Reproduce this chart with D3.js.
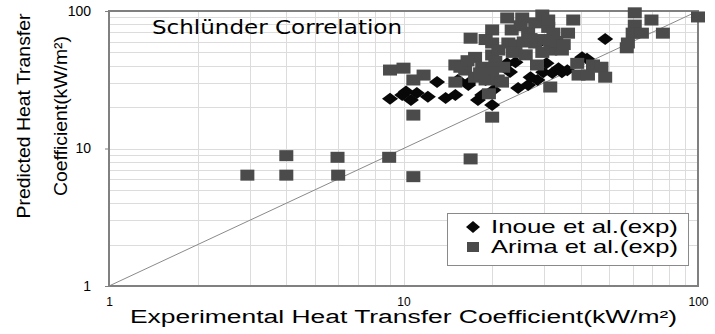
<!DOCTYPE html>
<html>
<head>
<meta charset="utf-8">
<script src="https://cdn.jsdelivr.net/npm/d3@7"></script>
<style>
  body { margin: 0; background: #fff; }
  svg { display: block; }
</style>
</head>
<body>
<svg id="chart" width="715" height="334"></svg>
<script>
const title = "Schlünder Correlation";
const xTitle = "Experimental Heat Transfer Coefficient(kW/m²)";
const yTitleLines = ["Predicted Heat Transfer", "Coefficient(kW/m²)"];
const tickValues = [1, 10, 100];
const seriesNames = ["Inoue et al.(exp)", "Arima et al.(exp)"];

// Inoue et al. (diamonds)
const inoueX = [9.0, 9.9, 10.6, 11.1, 12.1, 13.0, 13.9, 15.0, 16.6, 17.9, 18.5, 20.0, 20.2, 19.0,
  22.5, 24.0, 24.5, 26.5, 28.5, 29.8, 30.6, 32.0, 33.6, 34.5, 29.1, 40.4, 42.0, 48.4,
  10.2, 15.3, 16.6, 23.0, 27.0, 36.0];
const inoueY = [23.0, 24.5, 22.5, 25.3, 23.8, 30.4, 23.3, 24.5, 29.0, 22.5, 24.5, 20.7, 26.6, 31.5,
  41.6, 42.4, 27.6, 29.0, 31.5, 35.9, 41.6, 35.4, 38.4, 35.9, 59.4, 46.0, 45.0, 62.6,
  26.0, 31.5, 30.0, 36.0, 33.0, 37.0];

// Arima et al. (squares)
const arimaX = [2.95, 4.0, 4.0, 5.97, 6.0, 8.94, 10.8, 16.9,
  10.8, 20.0, 9.0, 10.0, 10.8, 11.7, 16.9, 15.0, 15.0, 16.2, 17.5, 17.5, 18.5, 19.0,
  20.0, 20.0, 20.0, 20.0, 20.9, 21.8, 22.5, 23.3, 22.7, 24.0, 25.3, 26.5, 25.6, 28.0,
  28.0, 29.6, 31.0, 31.5, 29.6, 32.3, 34.5, 37.7, 36.2, 28.4, 31.5, 38.9, 39.3, 44.0,
  47.0, 48.4, 42.3, 15.6, 21.6,
  19.5, 20.5, 21.0, 19.0, 23.5, 26.0, 27.0, 30.0, 33.0, 35.0, 25.0, 31.0, 18.2, 16.5,
  61.0, 61.0, 69.5, 60.0, 64.5, 57.8, 57.3, 76.0, 100];
const arimaY = [6.4, 8.87, 6.4, 8.63, 6.4, 8.63, 6.24, 8.4,
  17.5, 16.9, 37.2, 38.4, 31.5, 34.2, 63.4, 40.5, 30.4, 37.2, 46.0, 33.0, 39.0, 31.5,
  72.8, 58.5, 47.9, 37.2, 31.5, 39.0, 89.0, 72.8, 58.5, 56.6, 89.0, 70.0, 59.5, 82.0,
  58.5, 93.5, 76.0, 52.0, 50.0, 69.0, 52.0, 86.0, 69.0, 40.5, 28.0, 41.6, 34.2, 40.5,
  39.0, 33.0, 34.2, 39.0, 30.4,
  25.0, 43.0, 52.0, 62.0, 50.0, 48.0, 63.0, 62.0, 60.0, 57.0, 78.0, 86.0, 35.5, 43.5,
  97.0, 79.0, 86.0, 69.0, 69.0, 58.5, 54.0, 69.0, 90.5];

const svg = d3.select("#chart");
const plot = { left: 109, right: 698, top: 11, bottom: 286 };

const x = d3.scaleLog().domain([1, 100]).range([plot.left, plot.right]);
const y = d3.scaleLog().domain([1, 100]).range([plot.bottom, plot.top]);

// grid
const grid = svg.append("g").attr("stroke", "#dcdcdc").attr("stroke-width", 1);
grid.selectAll("line.gx").data(x.ticks()).join("line")
  .attr("x1", (d) => Math.round(x(d)) + 0.5).attr("x2", (d) => Math.round(x(d)) + 0.5)
  .attr("y1", plot.top).attr("y2", plot.bottom);
grid.selectAll("line.gy").data(y.ticks()).join("line")
  .attr("y1", (d) => Math.round(y(d)) + 0.5).attr("y2", (d) => Math.round(y(d)) + 0.5)
  .attr("x1", plot.left).attr("x2", plot.right);

// 1:1 line
svg.append("line")
  .attr("x1", x(1)).attr("y1", y(1)).attr("x2", x(100)).attr("y2", y(100))
  .attr("stroke", "#8a8a8a").attr("stroke-width", 1);

// frame
svg.append("rect")
  .attr("x", plot.left).attr("y", plot.top)
  .attr("width", plot.right - plot.left).attr("height", plot.bottom - plot.top)
  .attr("fill", "none").attr("stroke", "#808080").attr("stroke-width", 2);

// axes
const yAxis = svg.append("g").attr("transform", `translate(${plot.left},0)`)
  .call(d3.axisLeft(y).tickValues(tickValues).tickSize(4).tickFormat(d3.format("d")));
yAxis.select(".domain").remove();
yAxis.selectAll("line").attr("stroke", "#808080");
yAxis.selectAll("text").attr("font-family", "Liberation Sans, Arial, sans-serif")
  .attr("font-size", 14).attr("fill", "#000").attr("x", -18);

const xAxis = svg.append("g").attr("transform", `translate(0,${plot.bottom})`)
  .call(d3.axisBottom(x).tickValues(tickValues).tickSize(0).tickFormat(d3.format("d")));
xAxis.select(".domain").remove();
xAxis.selectAll("text").attr("font-family", "Liberation Sans, Arial, sans-serif")
  .attr("font-size", 12).attr("fill", "#000").attr("y", 11);

// series
const inoue = inoueX.map((v, i) => ({ x: v, y: inoueY[i] }));
const arima = arimaX.map((v, i) => ({ x: v, y: arimaY[i] }));

svg.append("g").selectAll("path").data(inoue).join("path")
  .attr("d", "M0,-6 L8,0 L0,6 L-8,0 Z")
  .attr("transform", (d) => `translate(${x(d.x)},${y(d.y)})`)
  .attr("fill", "#080808");

svg.append("g").selectAll("rect").data(arima).join("rect")
  .attr("x", (d) => x(d.x) - 7).attr("y", (d) => y(d.y) - 5.5)
  .attr("width", 14).attr("height", 11)
  .attr("fill", "#4b4b4b");

// title
svg.append("text").attr("x", 152).attr("y", 34)
  .attr("font-family", "DejaVu Sans, Verdana, sans-serif").attr("font-size", 19)
  .attr("textLength", 250).attr("lengthAdjust", "spacingAndGlyphs")
  .text(title);

// x title
svg.append("text").attr("x", 130).attr("y", 323)
  .attr("font-family", "Liberation Sans, Arial, sans-serif").attr("font-size", 18)
  .attr("textLength", 547).attr("lengthAdjust", "spacingAndGlyphs")
  .text(xTitle);

// y title (two lines)
const yLineX = [30, 67];
const yLineLen = [205, 160];
yTitleLines.forEach((t, i) => {
  svg.append("text")
    .attr("transform", `translate(${yLineX[i]},116) rotate(-90)`)
    .attr("text-anchor", "middle")
    .attr("font-family", "Liberation Sans, Arial, sans-serif").attr("font-size", 19)
    .attr("textLength", yLineLen[i]).attr("lengthAdjust", "spacingAndGlyphs")
    .text(t);
});

// legend
const legend = svg.append("g");
legend.append("rect").attr("x", 447.5).attr("y", 213.5).attr("width", 241).attr("height", 52)
  .attr("fill", "#fff").attr("stroke", "#8a8a8a").attr("stroke-width", 1);
legend.append("path").attr("d", "M473,221 L480,227 L473,233 L466,227 Z").attr("fill", "#080808");
legend.append("rect").attr("x", 467).attr("y", 242).attr("width", 12).attr("height", 10).attr("fill", "#4b4b4b");
seriesNames.forEach((name, i) => {
  legend.append("text").attr("x", 491).attr("y", 233 + i * 19.5)
    .attr("font-family", "Liberation Sans, Arial, sans-serif").attr("font-size", 19)
    .attr("textLength", 187).attr("lengthAdjust", "spacingAndGlyphs")
    .text(name);
});
</script>
</body>
</html>
